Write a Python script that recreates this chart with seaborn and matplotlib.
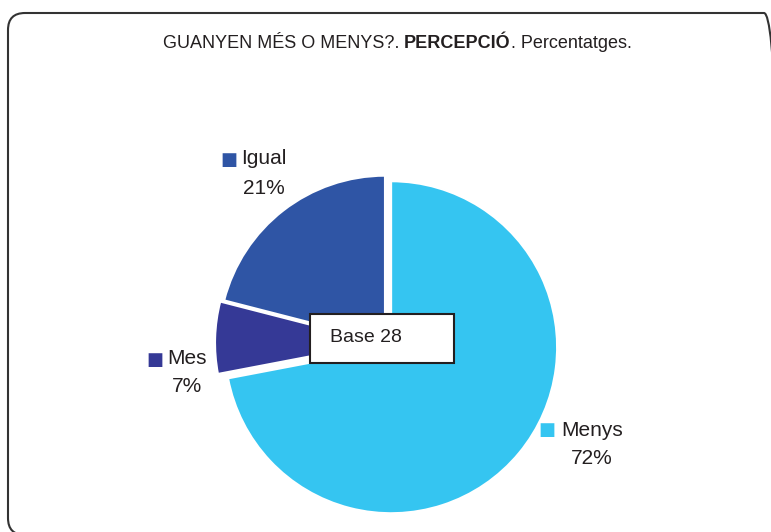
import matplotlib
matplotlib.use("Agg")
import matplotlib.pyplot as plt
import seaborn as sns
from matplotlib.patches import FancyBboxPatch
from matplotlib.transforms import IdentityTransform

# data
categories = ["Menys", "Mes", "Igual"]
percentages = [72, 7, 21]
colors = ["#35C5F1", "#353996", "#2F55A5"]
explode = [0.04, 0.03, 0.01]
base_n = 28

sns.set_theme(style="white")
plt.rcParams['font.family'] = ['Liberation Sans', 'DejaVu Sans']

fig = plt.figure(figsize=(7.71, 5.32), dpi=100)
ax = fig.add_axes([0, 0, 1, 1])

ax.pie(percentages, colors=colors, startangle=90, counterclock=False,
       explode=explode, radius=1, center=(0, 0),
       wedgeprops=dict(edgecolor='white', linewidth=1.5))

# pie centre at pixel (386, 343), radius 166 px
cx, cy, r = 386, 343, 166
ax.set_aspect('auto')
ax.set_xlim(-cx / r, (771 - cx) / r)
ax.set_ylim(-(532 - cy) / r, cy / r)
ax.axis('off')


def px(x, y):
    return (x - cx) / r, (cy - y) / r


# labels: (square centre, text centre x, name y, pct y)
label_pos = {
    "Igual": ((229, 160), 264, 158, 188),
    "Mes": ((155, 360), 187, 358, 386),
    "Menys": ((547, 430), 592, 430, 458),
}
for cat, pct, col in zip(categories, percentages, colors):
    sq, tx, ny, py = label_pos[cat]
    ax.text(*px(*sq), "■", color=col, fontsize=13, ha='center', va='center',
            family='DejaVu Sans')
    ax.text(*px(tx, ny), cat, fontsize=15, ha='center', va='center', color='#231F20')
    ax.text(*px(tx, py), f"{pct}%", fontsize=15, ha='center', va='center', color='#231F20')

# base box
bx0, by0 = px(310, 363)
bx1, by1 = px(454, 314)
ax.add_patch(plt.Rectangle((bx0, by0), bx1 - bx0, by1 - by0, facecolor='white',
                           edgecolor='#231F20', linewidth=1.5, zorder=5))
ax.text(*px(330, 338), f"Base {base_n}", fontsize=14, ha='left', va='center',
        color='#231F20', zorder=6)

# title with bold part, pieced together then centred at x=397
title_y = 1 - 44 / 532
parts = [("GUANYEN MÉS O MENYS?. ", 'normal'), ("PERCEPCIÓ", 'bold'), (". Percentatges.", 'normal')]
texts = []
x = 0
for s, w in parts:
    t = fig.text(x, title_y, s, fontsize=13, va='center', weight=w, color='#231F20')
    fig.canvas.draw()
    x = t.get_window_extent().x1 / 771
    texts.append(t)
total = x
start = 397 / 771 - total / 2
for t in texts:
    t.set_x(t.get_position()[0] + start)

# rounded frame, running just off the right and bottom edges
frame = FancyBboxPatch((8, -3), 773, 532 - 13 + 3,
                       boxstyle="round,pad=0,rounding_size=17",
                       transform=IdentityTransform(), facecolor='none',
                       edgecolor='#333333', linewidth=1.5)
fig.patches.append(frame)

fig.savefig("out.png", dpi=100)
